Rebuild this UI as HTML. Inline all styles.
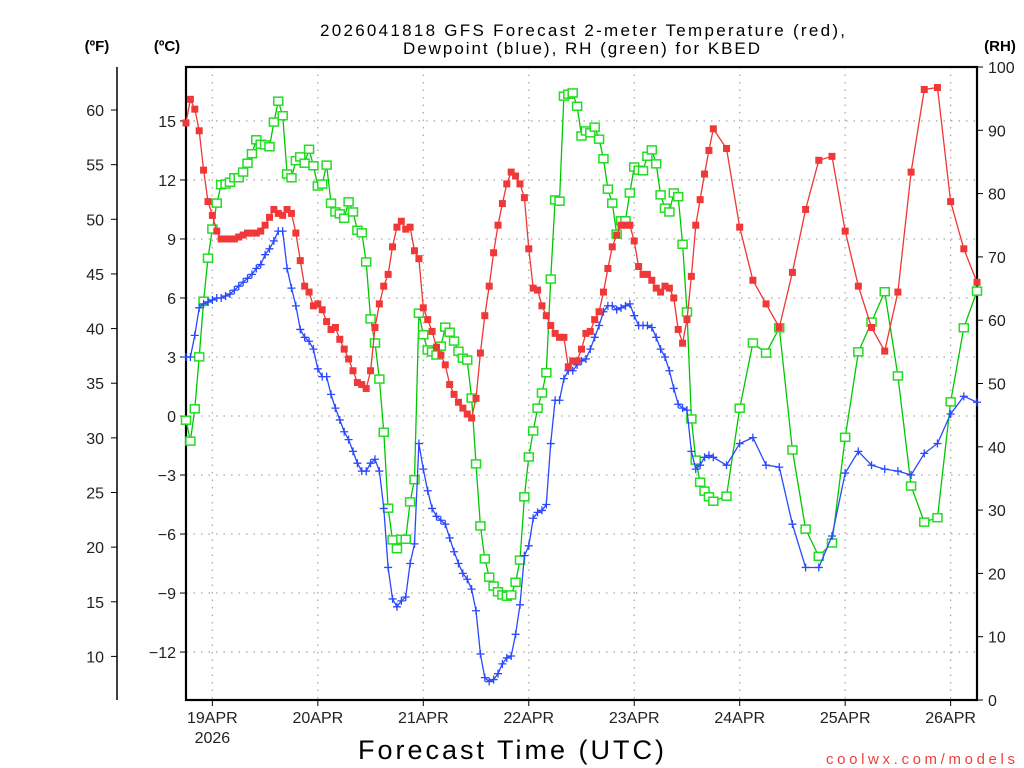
<!DOCTYPE html>
<html><head><meta charset="utf-8"><style>
body{margin:0;background:#fff;}
svg{display:block;font-family:"Liberation Sans","DejaVu Sans",sans-serif;}
</style></head><body>
<svg id="chart" width="1024" height="768" viewBox="0 0 1024 768" xmlns="http://www.w3.org/2000/svg">
<rect width="1024" height="768" fill="#fff"/>
<text x="320" y="36" font-size="17" textLength="525" lengthAdjust="spacing" fill="#000">2026041818 GFS Forecast 2-meter Temperature (red),</text>
<text x="403" y="54" font-size="17" textLength="357" lengthAdjust="spacing" fill="#000">Dewpoint (blue), RH (green) for KBED</text>
<text x="97" y="51" font-size="15" font-weight="bold" text-anchor="middle">(ºF)</text>
<text x="167" y="51" font-size="15" font-weight="bold" text-anchor="middle">(ºC)</text>
<text x="1000" y="51" font-size="15" font-weight="bold" text-anchor="middle">(RH)</text>
<text x="358" y="759" font-size="27" textLength="306" lengthAdjust="spacing">Forecast Time (UTC)</text>
<text x="826" y="764" font-size="15" textLength="189" lengthAdjust="spacing" fill="#f04040">coolwx.com/models</text>
<g id="grid"></g><g id="axes"></g><g id="series"></g>
</svg>
<script>
// Temperature (°C), hourly 0..120 then 3-hourly 123..180
const tempC = [
14.9,16.1,15.6,14.5,12.5,10.9,10.2,9.4,9.0,9.0,
9.0,9.0,9.1,9.2,9.3,9.3,9.3,9.4,9.7,10.1,
10.5,10.3,10.2,10.5,10.3,9.3,7.9,6.6,6.3,5.6,
5.7,5.4,4.8,4.4,4.5,3.9,3.4,2.9,2.3,1.7,
1.6,1.4,2.3,4.5,5.7,6.6,7.2,8.6,9.6,9.9,
9.5,9.6,8.4,8.0,5.5,4.9,4.3,3.5,3.1,2.6,
1.6,1.1,0.7,0.4,0.1,-0.1,0.9,3.2,5.1,6.6,
8.3,9.7,10.8,11.8,12.4,12.2,11.8,11.1,8.5,6.5,
6.4,5.6,5.1,4.6,4.2,4.0,4.0,2.5,2.8,2.8,
3.4,4.2,4.3,4.9,5.3,6.3,7.5,8.6,9.2,9.7,
9.7,9.7,8.9,7.6,7.2,7.2,6.9,6.5,6.3,6.6,
6.5,6.0,4.4,3.7,4.9,7.1,9.7,11.0,12.3,13.5,
14.6,
13.6,9.6,6.9,5.7,4.5,7.3,10.5,13.0,13.2,9.4,
6.6,4.5,3.3,6.3,12.4,16.6,16.7,10.9,8.5,6.8];
const dewC = [
3.0,3.0,4.1,5.5,5.7,5.8,5.9,6.0,6.0,6.1,
6.2,6.4,6.6,6.8,7.0,7.2,7.5,7.7,8.2,8.5,
8.9,9.4,9.4,7.5,6.5,5.6,4.4,4.0,3.8,3.4,
2.4,2.0,2.0,1.1,0.4,-0.2,-0.8,-1.2,-1.8,-2.4,
-2.8,-2.8,-2.4,-2.2,-2.8,-4.7,-7.7,-9.3,-9.7,-9.4,
-9.2,-7.5,-6.5,-1.4,-2.7,-3.8,-4.7,-5.1,-5.3,-5.5,
-6.2,-6.9,-7.5,-8.0,-8.3,-8.8,-9.9,-12.1,-13.3,-13.5,
-13.4,-13.1,-12.6,-12.3,-12.2,-11.1,-9.6,-7.1,-6.6,-5.2,
-4.9,-4.8,-4.5,-1.4,0.8,0.8,1.9,2.3,2.3,2.6,
2.8,2.9,3.4,4.0,4.6,5.3,5.6,5.6,5.4,5.5,
5.6,5.7,5.1,4.6,4.6,4.6,4.5,4.0,3.4,3.0,
2.3,1.4,0.6,0.4,0.3,-1.8,-2.7,-2.5,-2.1,-2.0,
-2.1,
-2.5,-1.4,-1.1,-2.5,-2.6,-5.5,-7.7,-7.7,-6.1,-2.9,
-1.8,-2.5,-2.7,-2.8,-3.0,-1.9,-1.4,0.1,1.0,0.7];
const rh = [
44.2,40.9,46.0,54.2,63.0,69.8,74.4,78.5,81.4,81.5,
81.8,82.5,82.5,83.4,84.8,86.3,88.5,87.8,87.7,87.4,
91.3,94.6,92.3,83.1,82.5,85.2,85.8,84.8,87.0,84.4,
81.2,81.5,84.5,78.5,77.1,76.8,76.1,78.7,77.1,74.2,
73.8,69.2,60.2,56.4,50.7,42.3,30.3,25.3,23.9,25.4,
25.4,31.3,34.8,61.1,57.7,55.3,55.0,54.5,55.9,58.9,
58.1,56.7,55.1,54.0,53.7,47.7,37.3,27.5,22.3,19.4,
18.0,17.1,16.6,16.4,16.6,18.6,22.1,32.1,38.4,42.5,
46.1,48.5,51.7,66.5,79.0,78.8,95.4,95.7,95.9,93.8,
89.1,89.9,89.6,90.5,88.6,85.5,80.7,78.5,73.6,75.7,
75.7,80.1,84.2,83.7,83.6,85.9,86.9,84.7,79.8,77.7,
77.1,80.1,79.5,72.0,61.3,44.4,37.9,34.4,33.0,32.1,
31.4,
32.2,46.1,56.4,54.8,58.8,39.5,27.0,22.7,24.8,41.5,
55.0,59.7,64.5,51.2,33.8,28.1,28.8,47.1,58.8,64.6];
const celsiusTicks = [15,12,9,6,3,0,-3,-6,-9,-12];
const fahrenheitTicks = [60,55,50,45,40,35,30,25,20,15,10];
const rhTicks = [100,90,80,70,60,50,40,30,20,10,0];
const dayLabels = ["19APR","20APR","21APR","22APR","23APR","24APR","25APR","26APR"];
const dayHours = [6,30,54,78,102,126,150,174];

const X0=186, X1=977, Y0=67, Y1=700;
const hours=[]; for(let h=0;h<=120;h++)hours.push(h); for(let h=123;h<=180;h+=3)hours.push(h);
const xs=h=>X0+(X1-X0)*h/180;
const yC=c=>416-c*19.67;
const yF=f=>yC((f-32)/1.8);
const yR=r=>Y1-(Y1-Y0)*r/100;
const NS="http://www.w3.org/2000/svg";
function mk(tag,attrs,parent){const e=document.createElementNS(NS,tag);for(const k in attrs)e.setAttribute(k,attrs[k]);parent.appendChild(e);return e;}
const grid=document.getElementById('grid'),axes=document.getElementById('axes'),series=document.getElementById('series');

dayHours.forEach((h,i)=>{
  const l=mk('line',{x1:xs(h),x2:xs(h),y1:Y0,y2:Y1,stroke:'#aaa','stroke-width':1.3,'stroke-dasharray':'1.5,6'},grid);
  
  
  const t=mk('line',{x1:xs(h),x2:xs(h),y1:Y1,y2:Y1+6,stroke:'#000','stroke-width':1},axes);
  
  
  const tx=mk('text',{x:xs(h),y:723,'font-size':16,'text-anchor':'middle',fill:'#222'},axes);
  tx.textContent=dayLabels[i];
  
  
});
const yr=mk('text',{x:xs(6),y:743,'font-size':16,'text-anchor':'middle',fill:'#222'},axes);
yr.textContent='2026';


celsiusTicks.forEach(c=>{
  const y=yC(c);
  const l=mk('line',{x1:X0,x2:X1,y1:y,y2:y,stroke:'#aaa','stroke-width':1.3,'stroke-dasharray':'1.5,6'},grid);
  
  
  const t=mk('line',{x1:X0-6,x2:X0,y1:y,y2:y,stroke:'#000','stroke-width':1},axes);
  
  
  const tx=mk('text',{x:X0-10,y:y+6,'font-size':16,'text-anchor':'end',fill:'#222'},axes);
  tx.textContent=(c<0?'\u2212':'')+Math.abs(c);
  
  
});
fahrenheitTicks.forEach(f=>{
  const y=yF(f);
  const t=mk('line',{x1:111,x2:117,y1:y,y2:y,stroke:'#000','stroke-width':1},axes);
  
  
  const tx=mk('text',{x:104,y:y+6,'font-size':16,'text-anchor':'end',fill:'#222'},axes);
  tx.textContent=f;
  
  
});
rhTicks.forEach(r=>{
  const y=yR(r);
  const t=mk('line',{x1:X1,x2:X1+6,y1:y,y2:y,stroke:'#000','stroke-width':1},axes);
  
  
  const tx=mk('text',{x:X1+11,y:y+6,'font-size':16,'text-anchor':'start',fill:'#222'},axes);
  tx.textContent=r;
  
  
});
const fr=mk('rect',{x:X0,y:Y0,width:X1-X0,height:Y1-Y0,fill:'none',stroke:'#000','stroke-width':2.2},axes);


const fa=mk('line',{x1:117,x2:117,y1:Y0,y2:Y1,stroke:'#000','stroke-width':1.5},axes);



function drawSeries(vals,yf,color,mcolor,kind,name){
  const g=mk('g',{},series);
  
  
  const pts=vals.map((v,i)=>xs(hours[i]).toFixed(1)+','+yf(v).toFixed(1)).join(' ');
  const pl=mk('polyline',{points:pts,fill:'none',stroke:color,'stroke-width':1.3},g);
  
  
  vals.forEach((v,i)=>{
    const x=xs(hours[i]),y=yf(v);let m;
    if(kind==='fill'){m=mk('rect',{x:x-3.5,y:y-3.5,width:7,height:7,fill:mcolor},g);}
    else if(kind==='open'){m=mk('rect',{x:x-4.5,y:y-4,width:9,height:8,fill:'#fff',stroke:mcolor,'stroke-width':1.5},g);}
    else{m=mk('path',{d:`M${x-4},${y}H${x+4}M${x},${y-4}V${y+4}`,stroke:mcolor,'stroke-width':1.3},g);}
    
    
  });
}
drawSeries(rh,yR,'#00c800','#22dd22','open','rh');
drawSeries(dewC,yC,'#2a48ff','#2a48ff','plus','dewpoint');
drawSeries(tempC,yC,'#f03535','#f03838','fill','temperature');
</script>
</body></html>
